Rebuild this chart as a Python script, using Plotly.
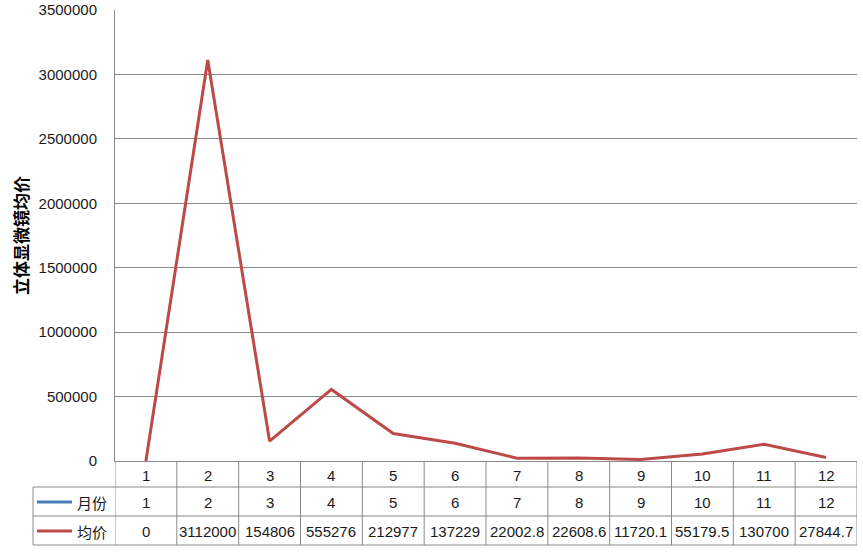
import plotly.graph_objects as go

W, H = 863, 552
months = [1, 2, 3, 4, 5, 6, 7, 8, 9, 10, 11, 12]
month_series = [1, 2, 3, 4, 5, 6, 7, 8, 9, 10, 11, 12]
avg_price = [0, 3112000, 154806, 555276, 212977, 137229, 22002.8, 22608.6, 11720.1, 55179.5, 130700, 27844.7]
avg_labels = ["0", "3112000", "154806", "555276", "212977", "137229", "22002.8", "22608.6", "11720.1", "55179.5", "130700", "27844.7"]
series_names = ["月份", "均价"]
y_title = "立体显微镜均价"

RED = "#BC4B48"
BLUE = "#4A7EBB"
GRID = "#898989"
FONT = "Liberation Sans"
TXT = "#1a1a1a"

def px(x):
    return x / W

def py(y):
    return 1 - y / H

fig = go.Figure()
fig.add_trace(go.Scatter(x=months, y=avg_price, mode="lines", name=series_names[1],
                         line=dict(color=RED, width=3), showlegend=False, hoverinfo="skip"))

shapes = []
annotations = []
line_style = dict(color=GRID, width=1)
# horizontal table lines
for yy in [487, 516, 545]:
    shapes.append(dict(type="line", xref="paper", yref="paper", x0=px(33), x1=px(857),
                       y0=py(yy), y1=py(yy), line=line_style))
# vertical table lines
shapes.append(dict(type="line", xref="paper", yref="paper", x0=px(33), x1=px(33),
                   y0=py(487), y1=py(545), line=line_style))
for k in range(0, 13):
    shapes.append(dict(type="line", xref="x", yref="paper", x0=0.5 + k, x1=0.5 + k,
                       y0=py(461), y1=py(545), line=line_style))

cell_font = dict(family=FONT, size=15, color=TXT)
# cell texts
for i, m in enumerate(months):
    for yy, txt in [(475, str(m)), (502, str(month_series[i])), (531, avg_labels[i])]:
        annotations.append(dict(x=m, y=py(yy), xref="x", yref="paper", text=txt,
                                xanchor="center", yanchor="middle",
                                showarrow=False, font=cell_font))

# legend keys in table
for yy, col, name in [(502, BLUE, series_names[0]), (531, RED, series_names[1])]:
    shapes.append(dict(type="line", xref="paper", yref="paper", x0=px(37), x1=px(72),
                       y0=py(yy), y1=py(yy), line=dict(color=col, width=3)))
    annotations.append(dict(x=px(75), y=py(yy), xref="paper", yref="paper", text=name,
                            xanchor="left", yanchor="middle", showarrow=False,
                            font=dict(family="Noto Sans CJK SC", size=15, color=TXT)))

# y-axis title
annotations.append(dict(x=px(20), y=py(236), xref="paper", yref="paper", text="<b>" + y_title + "</b>",
                        textangle=-90, showarrow=False, xanchor="center", yanchor="middle",
                        font=dict(family="Noto Sans CJK SC", size=17, color="#000000")))

fig.update_layout(
    width=W, height=H,
    margin=dict(l=0, r=0, t=0, b=0, pad=0),
    paper_bgcolor="white", plot_bgcolor="white",
    shapes=shapes, annotations=annotations,
    xaxis=dict(domain=[px(115), px(857)], range=[0.5, 12.5], showticklabels=False,
               showgrid=False, zeroline=False, showline=True, linecolor=GRID, linewidth=1,
               ticks="", fixedrange=True, automargin=False),
    yaxis=dict(domain=[py(461), py(10)], range=[0, 3500000], dtick=500000, tickformat="d",
               showgrid=True, gridcolor=GRID, gridwidth=1, zeroline=False,
               showline=True, linecolor=GRID, linewidth=1, ticks="",
               ticklabelstandoff=14, automargin=False, fixedrange=True,
               tickfont=dict(family=FONT, size=15, color=TXT)),
    showlegend=False,
    hovermode=False,
)

fig.write_html("out.html", config={"displayModeBar": False},
               post_script="document.body.style.margin='0';")
